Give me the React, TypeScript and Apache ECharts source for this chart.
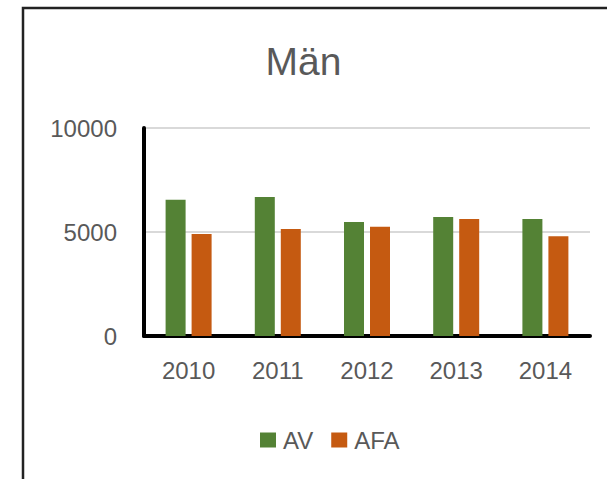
import React, { useEffect, useRef } from "react";
import * as echarts from "echarts";

const years = ["2010", "2011", "2012", "2013", "2014"];
const avValues = [6550, 6680, 5480, 5720, 5620];
const afaValues = [4900, 5150, 5250, 5620, 4800];
const yTicks = [0, 5000, 10000];

export default function App() {
  const ref = useRef<HTMLDivElement>(null);
  useEffect(() => {
    if (!ref.current) return;
    const chart = echarts.init(ref.current, null, { renderer: "svg" });
    const font = "'Liberation Sans', Arial, sans-serif";
    chart.setOption({
      animation: false,
      backgroundColor: "#ffffff",
      title: {
        text: "Män",
        left: "center",
        top: 37,
        textStyle: { fontFamily: font, fontSize: 39, fontWeight: "normal", color: "#595959" },
      },
      graphic: [
        {
          type: "rect",
          shape: { x: 23, y: 8, width: 700, height: 600 },
          style: { fill: "none", stroke: "#222222", lineWidth: 2.5 },
          silent: true,
        },
      ],
      legend: {
        left: 255,
        top: 423,
        itemWidth: 16,
        itemHeight: 15,
        itemGap: 18,
        icon: "rect",
        textStyle: { fontFamily: font, fontSize: 24, color: "#595959", padding: [0, 0, 0, 2] },
        data: ["AV", "AFA"],
      },
      grid: { left: 144, right: 17, top: 128, bottom: 143 },
      xAxis: {
        type: "category",
        data: years,
        axisLine: { show: true, lineStyle: { color: "#000000", width: 4 } },
        axisTick: { show: false },
        axisLabel: { fontFamily: font, fontSize: 24, color: "#595959", margin: 22 },
      },
      yAxis: {
        type: "value",
        min: yTicks[0],
        max: yTicks[yTicks.length - 1],
        interval: yTicks[1] - yTicks[0],
        axisLine: { show: true, lineStyle: { color: "#000000", width: 4 } },
        axisTick: { show: false },
        axisLabel: {
          fontFamily: font,
          fontSize: 24,
          color: "#595959",
          margin: 27,
          formatter: (v: number) => String(v),
        },
        splitLine: { show: true, lineStyle: { color: "#d9d9d9", width: 2 } },
      },
      series: [
        {
          name: "AV",
          type: "bar",
          data: avValues,
          barWidth: 20,
          barGap: "30%",
          itemStyle: { color: "#548235" },
        },
        {
          name: "AFA",
          type: "bar",
          data: afaValues,
          barWidth: 20,
          itemStyle: { color: "#C55A11" },
        },
      ],
    });
    return () => chart.dispose();
  }, []);
  return (
    <div
      ref={ref}
      style={{ position: "fixed", left: 0, top: 0, width: 607, height: 479, background: "#fff" }}
    />
  );
}
